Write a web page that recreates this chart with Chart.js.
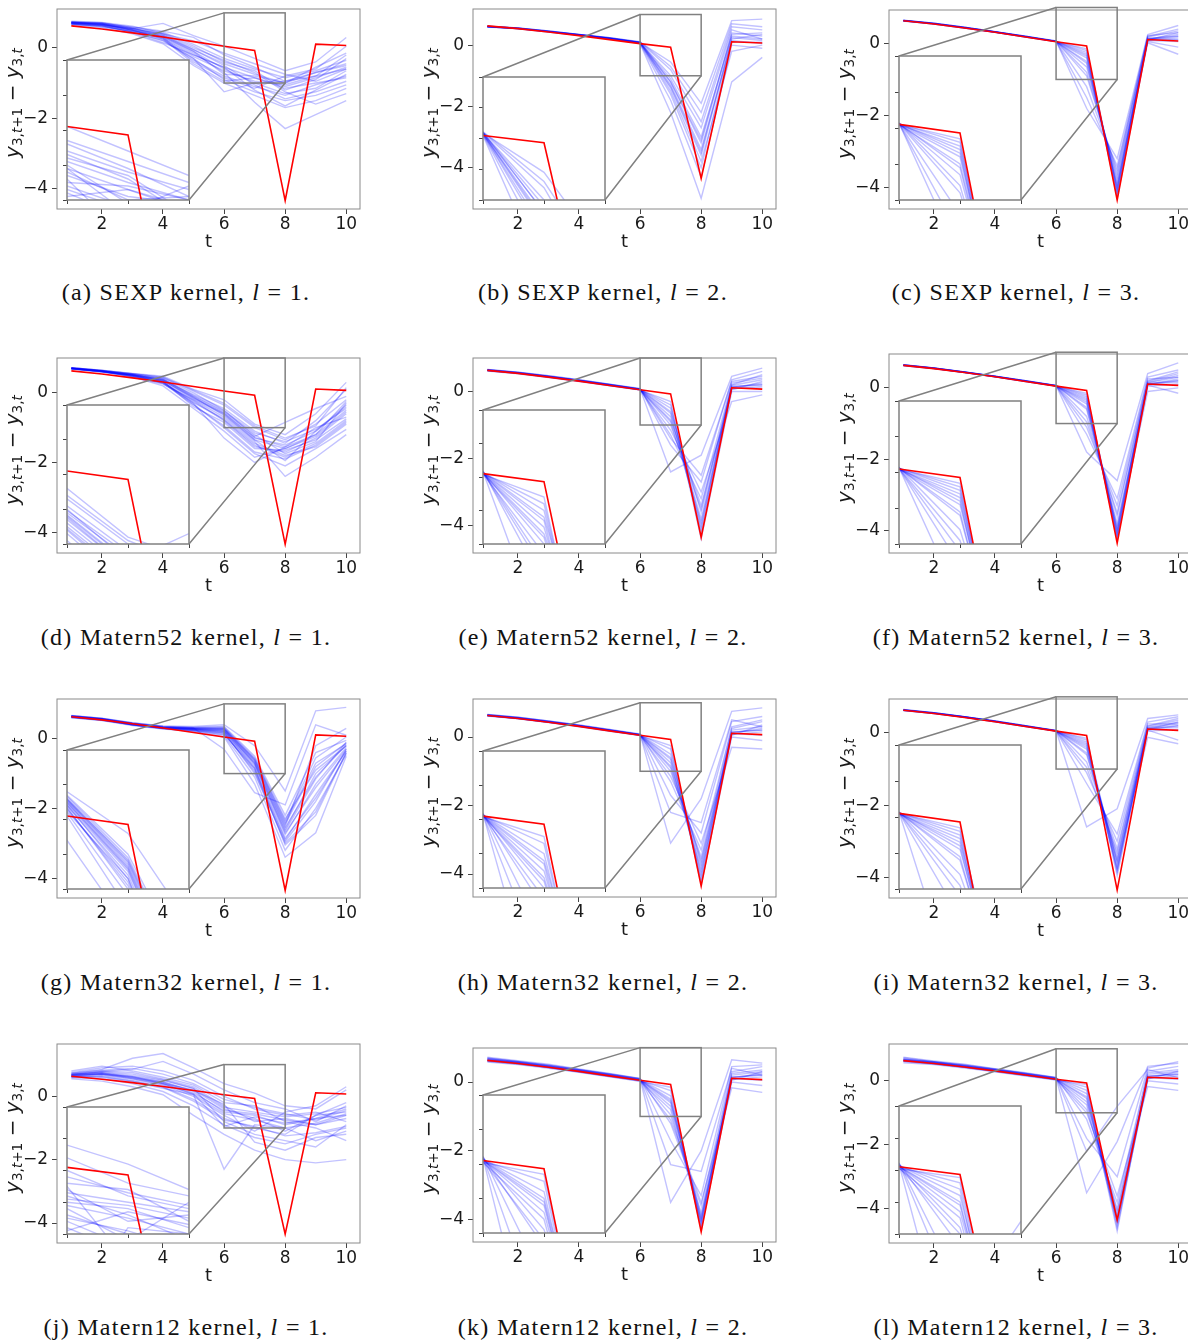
<!DOCTYPE html>
<html>
<head>
<meta charset="utf-8">
<script src="https://cdn.jsdelivr.net/npm/chart.js@4.4.1/dist/chart.umd.min.js"></script>
<style>
  html, body { margin: 0; padding: 0; width: 1188px; height: 1340px; overflow: hidden; background: #fff; }
  #fig { position: relative; width: 1188px; height: 1340px; overflow: hidden; }
  #fig canvas { position: absolute; }
  .ylab {
    position: absolute; transform: translate(-50%, -50%) rotate(-90deg);
    font-family: "DejaVu Sans"; font-size: 20px; line-height: 20px; white-space: nowrap; color: #1a1a1a;
  }
  .ylab sub { font-size: 68%; vertical-align: -0.25em; line-height: 0; }
  .cap {
    position: absolute; transform: translate(-50%, -50%);
    font-family: "Liberation Serif"; font-size: 24px; letter-spacing: 1.3px;
    white-space: nowrap; color: #111;
  }
</style>
</head>
<body>
<div id="fig"></div>
<script>
// ---- data ----
const steps = [1, 2, 3, 4, 5, 6, 7, 8, 9, 10];
const xTicks = [2, 4, 6, 8, 10];
const yTicks = [-4, -2, 0];
const zoomT = [6, 8];
const zoomY = [-1, 1];
const insetXTicks = [6, 7, 8];
const insetYTicks = [-1, -0.5, 0, 0.5, 1];

const kernels = ['SEXP', 'Matern52', 'Matern32', 'Matern12'];
const lengthscales = [1, 2, 3];
const letters = ['a', 'b', 'c', 'd', 'e', 'f', 'g', 'h', 'i', 'j', 'k', 'l'];

// observed y_{3,t+1} - y_{3,t}
const truth = [0.63, 0.54, 0.43, 0.31, 0.18, 0.05, -0.07, -4.35, 0.11, 0.07];

// posterior sample paths, one list per panel
const samplesA = [
  [.72, .68, .52, .30, -.20, -.55, -.85, -1.10, -.85, -.55],
  [.70, .64, .45, .22, -.35, -.80, -1.10, -1.35, -1.05, -.80],
  [.75, .72, .58, .45, .10, -.30, -.60, -.85, -.65, -.35],
  [.68, .62, .48, .28, -.25, -.65, -.95, -1.05, -.80, -.60],
  [.73, .70, .56, .38, -.05, -.50, -1.05, -1.45, -1.25, -.95],
  [.66, .58, .40, .12, -.50, -1.00, -1.35, -1.70, -1.50, -1.15],
  [.74, .66, .55, .70, .35, .05, -.30, -.65, -.40, .30],
  [.71, .69, .50, .25, -.30, -1.25, -1.00, -.95, -.70, -.45],
  [.69, .60, .47, .33, -.15, -.70, -1.55, -2.30, -1.90, -1.50],
  [.76, .73, .62, .42, .05, -.40, -.65, -1.20, -.90, -.30],
  [.70, .65, .50, .26, -.45, -.95, -.85, -1.15, -1.00, -.85],
  [.72, .67, .55, .40, .20, -.15, -.45, -.75, -.95, -.60],
  [.67, .63, .44, .15, -.20, -.55, -1.20, -1.65, -1.20, -.75],
  [.73, .71, .57, .32, -.10, -.75, -.80, -1.00, -.55, -.15],
  [.71, .66, .50, .35, -.05, -.45, -.75, -1.00, -.70, -.50],
  [.74, .70, .60, .48, .30, -.20, -.55, -.95, -.80, -.20],
  [.69, .63, .46, .20, -.30, -.90, -1.25, -1.50, -1.35, -1.05],
  [.72, .68, .53, .36, -.10, -.60, -1.00, -1.30, -1.15, -.65],
  [.70, .66, .51, .30, -.40, -.85, -1.15, -.80, -.60, .05],
  [.73, .69, .54, .40, .00, -.35, -.70, -1.25, -1.60, -1.30]
];
const samplesB = [
  [.61, .55, .45, .34, .23, .09, -1.10, -3.00, .30, .20],
  [.60, .54, .44, .33, .22, .08, -1.30, -3.40, .10, .10],
  [.62, .56, .46, .35, .24, .10, -.80, -2.50, .60, .50],
  [.60, .54, .44, .33, .21, .07, -1.50, -3.80, -.20, .00],
  [.61, .55, .45, .34, .23, .09, -1.20, -3.10, .40, .30],
  [.59, .53, .43, .32, .21, .06, -1.80, -4.30, .00, -.10],
  [.62, .56, .46, .35, .24, .11, -.70, -2.20, .70, .60],
  [.61, .55, .45, .34, .22, .08, -1.40, -3.60, .20, .35],
  [.60, .54, .43, .32, .20, .05, -2.20, -5.00, -1.20, -.40],
  [.61, .55, .45, .34, .23, .09, -1.00, -2.70, .50, .20],
  [.60, .54, .44, .33, .22, .07, -1.60, -4.00, .15, .05],
  [.62, .56, .46, .35, .24, .10, -1.20, -3.20, .35, .40],
  [.61, .55, .45, .34, .23, .09, -.55, -1.90, .80, .85],
  [.60, .54, .44, .33, .22, .08, -1.35, -3.50, .25, .15]
];
const samplesC = [
  [.64, .55, .44, .32, .19, .06, -.20, -4.10, .12, .20],
  [.63, .54, .43, .31, .18, .05, -.50, -3.90, .10, .30],
  [.65, .56, .45, .33, .20, .07, -.80, -3.70, .15, .10],
  [.63, .55, .44, .32, .19, .05, -.15, -4.30, .08, .05],
  [.64, .56, .45, .33, .20, .06, -1.20, -3.50, .20, .40],
  [.62, .54, .43, .31, .18, .05, -.40, -4.00, .12, .25],
  [.64, .55, .44, .32, .19, .06, -.65, -3.80, .05, -.10],
  [.65, .56, .45, .33, .20, .07, -1.80, -3.20, .25, .50],
  [.63, .55, .44, .32, .19, .06, -.30, -4.20, .10, .15],
  [.64, .55, .44, .32, .19, .06, -.90, -3.60, .18, .35],
  [.62, .54, .43, .31, .18, .05, -.25, -4.15, .02, -.30],
  [.64, .56, .45, .33, .20, .06, -.55, -3.95, .14, .20],
  [.63, .55, .44, .32, .19, .06, -1.50, -3.40, .22, .30],
  [.64, .55, .44, .32, .19, .06, -.35, -4.05, .09, .10]
];
const samplesD = [
  [.71, .63, .52, .35, -.15, -.60, -1.30, -1.50, -1.10, -.40],
  [.69, .60, .48, .30, -.25, -.80, -1.55, -1.70, -1.30, -.60],
  [.72, .64, .55, .45, .05, -.35, -1.00, -1.35, -.90, -.20],
  [.70, .62, .50, .28, -.35, -.95, -1.70, -1.90, -1.50, -.85],
  [.71, .61, .46, .20, -.45, -1.10, -1.85, -1.60, -1.20, -.50],
  [.68, .59, .53, .40, -.10, -.55, -1.20, -1.75, -1.40, -.30],
  [.72, .65, .56, .48, .10, -.20, -.90, -1.20, -.60, .30],
  [.70, .62, .49, .32, -.30, -1.30, -2.00, -1.55, -1.00, -.70],
  [.69, .60, .45, .25, -.20, -.70, -1.40, -2.40, -1.85, -1.20],
  [.71, .63, .51, .38, -.05, -.45, -1.10, -1.45, -.80, .10],
  [.70, .61, .50, .33, -.40, -.85, -1.60, -1.65, -1.35, -.75],
  [.72, .64, .54, .42, .00, -.50, -1.25, -.85, -.45, -.10],
  [.69, .62, .47, .27, -.28, -.75, -1.45, -1.80, -1.55, -.90],
  [.71, .63, .52, .36, -.12, -.65, -1.35, -1.95, -1.10, -.35],
  [.70, .62, .51, .34, -.18, -.62, -1.35, -1.60, -1.25, -.55],
  [.71, .63, .53, .39, -.08, -.52, -1.15, -1.40, -1.05, -.45],
  [.69, .61, .48, .29, -.22, -.78, -1.50, -1.85, -1.45, -.80],
  [.72, .64, .55, .44, .08, -.30, -.95, -1.30, -.95, .15],
  [.70, .62, .50, .31, -.33, -1.00, -1.75, -2.10, -1.60, -1.05],
  [.71, .63, .52, .37, -.14, -.58, -1.28, -1.55, -1.20, -.25]
];
const samplesE = [
  [.64, .56, .45, .33, .20, .07, -.60, -3.60, .15, .20],
  [.62, .54, .43, .31, .18, .05, -.90, -3.90, .05, .30],
  [.66, .58, .47, .35, .22, .08, -1.30, -3.20, .25, .40],
  [.63, .55, .44, .32, .19, .06, -.40, -4.20, .10, .10],
  [.65, .57, .46, .34, .21, .07, -1.00, -3.50, .20, .50],
  [.61, .53, .42, .30, .17, .04, -.30, -4.40, .00, .00],
  [.66, .58, .47, .35, .22, .09, -1.60, -2.70, .35, .60],
  [.63, .55, .44, .32, .19, .06, -.75, -3.80, .12, .25],
  [.64, .57, .46, .34, .21, .08, -2.40, -1.90, .45, .70],
  [.62, .54, .43, .31, .18, .05, -1.15, -3.00, -.30, -.10],
  [.65, .56, .45, .33, .20, .07, -.50, -4.00, .18, .35],
  [.63, .55, .44, .32, .19, .06, -.85, -3.40, .08, .15],
  [.64, .56, .45, .33, .20, .07, -1.40, -2.50, .30, .45],
  [.63, .55, .44, .32, .19, .06, -.65, -4.10, .14, .20]
];
const samplesF = [
  [.64, .55, .44, .32, .19, .06, -.20, -4.10, .12, .20],
  [.63, .54, .43, .31, .18, .05, -.45, -3.90, .15, .35],
  [.65, .56, .45, .33, .20, .07, -.80, -3.60, .20, .45],
  [.63, .55, .44, .32, .19, .05, -.15, -4.25, .05, .10],
  [.64, .56, .45, .33, .20, .06, -1.10, -3.30, .25, .30],
  [.62, .54, .43, .31, .18, .05, -.30, -4.00, .10, .25],
  [.64, .55, .44, .32, .19, .06, -.60, -3.80, .08, -.15],
  [.65, .56, .45, .33, .20, .07, -1.80, -2.60, .40, .70],
  [.63, .55, .44, .32, .19, .06, -.25, -4.20, .12, .15],
  [.64, .55, .44, .32, .19, .06, -.95, -3.50, .18, .40],
  [.62, .54, .43, .31, .18, .05, -.35, -4.15, -.10, .00],
  [.64, .56, .45, .33, .20, .06, -.55, -3.95, .14, .30],
  [.63, .55, .44, .32, .19, .06, -1.30, -3.10, .30, .50],
  [.64, .55, .44, .32, .19, .06, -.40, -4.05, .10, .20]
];
const samplesG = [
  [.64, .56, .42, .32, .28, .25, -.70, -2.60, -1.00, -.20],
  [.62, .53, .40, .30, .24, .15, -.90, -2.90, -1.60, -.35],
  [.66, .58, .45, .35, .32, .35, -.50, -2.20, -.40, -.05],
  [.60, .52, .38, .28, .22, .10, -1.10, -3.20, -2.00, -.45],
  [.65, .57, .44, .33, .30, .30, -.60, -2.40, -.70, -.15],
  [.63, .55, .41, .31, .26, .20, -.80, -2.75, -1.30, -.25],
  [.67, .59, .46, .37, .35, .40, -.20, -1.50, .80, .90],
  [.61, .54, .39, .29, .20, .05, -1.30, -3.40, -2.70, -.50],
  [.64, .56, .43, .34, .29, .28, -.65, -2.50, -.20, .30],
  [.62, .55, .40, .30, .25, .18, -1.00, -2.95, -1.80, -.30],
  [.65, .57, .44, .32, .27, .22, -.75, -2.65, -1.15, -.10],
  [.63, .56, .42, .33, .31, -.30, -1.55, -1.90, .40, .10],
  [.61, .53, .40, .29, .23, .12, -.85, -3.05, -2.20, -.40],
  [.66, .58, .45, .36, .33, .33, -.55, -2.30, -.90, -.20],
  [.64, .56, .42, .32, .28, .24, -.72, -2.70, -1.40, -.30],
  [.63, .55, .41, .31, .27, .21, -.85, -2.85, -1.70, -.35],
  [.65, .57, .43, .33, .30, .28, -.62, -2.45, -.80, -.12],
  [.62, .54, .40, .30, .25, .16, -.95, -3.00, -2.10, -.40],
  [.64, .56, .42, .32, .29, .26, -.68, -2.55, -1.10, -.18],
  [.66, .58, .44, .34, .31, .30, -.58, -2.35, -.55, .05]
];
const samplesH = [
  [.64, .56, .45, .33, .20, .07, -.60, -3.70, .15, .20],
  [.62, .54, .43, .31, .18, .05, -.90, -3.90, .05, .35],
  [.66, .58, .47, .35, .22, .08, -1.30, -3.30, .30, .50],
  [.63, .55, .44, .32, .19, .06, -.35, -4.20, .10, .05],
  [.65, .57, .46, .34, .21, .07, -1.00, -3.50, .25, .45],
  [.61, .53, .42, .30, .17, .04, -.25, -4.30, .00, -.10],
  [.66, .58, .47, .35, .22, .09, -1.70, -2.80, .45, .60],
  [.63, .55, .44, .32, .19, .06, -.75, -3.80, .12, .25],
  [.64, .57, .46, .34, .21, .08, -3.10, -1.80, .75, .85],
  [.62, .54, .43, .31, .18, .05, -1.15, -3.10, -.30, -.35],
  [.65, .56, .45, .33, .20, .07, -.50, -4.00, .20, .30],
  [.63, .55, .44, .32, .19, .06, -.85, -3.60, .08, .15],
  [.64, .56, .45, .33, .20, .07, -2.20, -2.50, .50, .30],
  [.63, .55, .44, .32, .19, .06, -.65, -4.10, .14, .20]
];
const samplesI = [
  [.64, .55, .44, .32, .19, .06, -.20, -3.70, .12, .20],
  [.63, .54, .43, .31, .18, .05, -.45, -3.50, .15, .30],
  [.65, .56, .45, .33, .20, .07, -.80, -3.20, .20, .40],
  [.63, .55, .44, .32, .19, .05, -.15, -3.95, .05, .10],
  [.64, .56, .45, .33, .20, .06, -1.10, -3.00, .25, .25],
  [.62, .54, .43, .31, .18, .05, -.30, -3.80, .10, .30],
  [.64, .55, .44, .32, .19, .06, -.60, -3.40, .08, -.20],
  [.65, .56, .45, .33, .20, .07, -2.60, -2.10, .40, .50],
  [.63, .55, .44, .32, .19, .06, -.25, -3.85, .12, .15],
  [.64, .55, .44, .32, .19, .06, -.95, -3.30, .18, .35],
  [.62, .54, .43, .31, .18, .05, -.35, -3.60, -.12, -.30],
  [.64, .56, .45, .33, .20, .06, -.55, -3.55, .14, .25],
  [.63, .55, .44, .32, .19, .06, -1.40, -2.80, .30, .45],
  [.64, .55, .44, .32, .19, .06, -.40, -3.75, .10, .20]
];
const samplesJ = [
  [.65, .72, .60, .45, .15, -.50, -.60, -.90, -.70, -.40],
  [.70, .80, .75, .55, .30, -.30, -.80, -.70, -.90, -.60],
  [.60, .65, .50, .30, -.10, -.70, -1.00, -1.20, -.60, -.20],
  [.75, .90, .95, .80, .50, .00, -.40, -.60, -.50, -.80],
  [.58, .55, .40, .15, -.30, -.90, -1.30, -1.50, -1.20, -1.00],
  [.68, .78, .85, 1.10, .70, .20, -.20, -.40, -.80, -.30],
  [.62, .60, .45, .25, .05, -2.30, -.90, -1.00, -1.40, -1.10],
  [.72, .85, 1.20, 1.35, .90, .40, .10, -.30, -.40, .20],
  [.55, .48, .30, .05, -.60, -1.20, -1.70, -2.00, -2.10, -2.00],
  [.66, .70, .62, .40, .20, -.40, -.70, -1.10, -.60, -.50],
  [.80, .95, .80, .60, .35, -.20, -.30, -.80, -1.00, -1.40],
  [.63, .68, .55, .35, .00, -.60, -1.10, -.50, -.30, .30],
  [.70, .75, .65, .50, .25, -.80, -1.20, -1.40, -1.60, -.90],
  [.67, .73, .58, .42, .10, -.45, -.55, -.75, -.90, -.70],
  [.64, .70, .58, .40, .05, -.55, -.75, -1.00, -.85, -.55],
  [.69, .77, .70, .52, .25, -.35, -.50, -.65, -.55, -.35],
  [.61, .62, .48, .28, -.15, -.75, -.95, -1.25, -1.15, -.95],
  [.73, .82, .88, .70, .40, -.10, -.35, -.55, -.75, -.45],
  [.66, .70, .55, .38, .08, -.95, -.65, -.85, -.70, -.60],
  [.68, .74, .62, .45, .18, -.25, -1.45, -1.70, -1.30, -1.20]
];
const samplesK = [
  [.66, .58, .46, .35, .21, .07, -.50, -3.90, .15, .20],
  [.60, .52, .42, .29, .16, .03, -.80, -4.10, .05, .30],
  [.70, .60, .50, .37, .24, .10, -1.20, -3.60, .30, .45],
  [.62, .55, .43, .31, .18, .05, -.25, -4.30, .10, .05],
  [.68, .57, .47, .34, .22, .08, -.95, -3.80, .25, .35],
  [.58, .51, .40, .28, .15, .02, -.15, -4.25, .00, -.10],
  [.72, .62, .52, .38, .25, .11, -1.70, -3.30, .45, .50],
  [.63, .56, .45, .32, .19, .06, -.60, -4.00, .12, .25],
  [.65, .58, .48, .36, .23, .09, -3.50, -2.00, .65, .55],
  [.61, .53, .42, .30, .17, .04, -1.10, -3.50, -.17, -.30],
  [.67, .59, .47, .34, .21, .07, -.40, -4.15, .20, .30],
  [.64, .55, .44, .32, .19, .06, -.70, -3.95, .08, .15],
  [.69, .60, .49, .36, .23, .10, -2.40, -2.60, .40, .20],
  [.63, .56, .45, .33, .20, .06, -.55, -4.05, .14, .20]
];
const samplesL = [
  [.66, .58, .46, .35, .21, .07, -.40, -4.20, .15, .20],
  [.60, .52, .42, .29, .16, .03, -.75, -4.40, .05, .30],
  [.72, .60, .50, .37, .24, .10, -1.20, -3.80, .30, .45],
  [.62, .55, .43, .31, .18, .05, -.20, -4.60, .10, .05],
  [.68, .57, .47, .34, .22, .08, -.90, -4.00, .25, .35],
  [.56, .51, .40, .28, .15, .02, -.12, -4.50, .00, -.10],
  [.74, .62, .52, .38, .25, .11, -1.80, -3.00, .40, .60],
  [.63, .56, .45, .32, .19, .06, -.55, -4.30, .12, .25],
  [.65, .58, .48, .36, .23, .09, -3.50, -1.90, .45, .55],
  [.61, .53, .42, .30, .17, .04, -1.00, -3.60, -.18, -.30],
  [.67, .59, .47, .34, .21, .07, -.30, -4.70, .20, .30],
  [.64, .55, .44, .32, .19, .06, -.65, -4.10, .08, .15],
  [.69, .60, .49, .36, .23, .10, -2.20, -.80, .35, .10],
  [.63, .56, .45, .33, .20, .06, -.50, -4.35, .14, .20]
];
const panelSamples = [samplesA, samplesB, samplesC, samplesD, samplesE, samplesF,
  samplesG, samplesH, samplesI, samplesJ, samplesK, samplesL];
const yLimits = [
  [-4.59, 1.11], [-5.35, 1.18], [-4.60, 0.93],
  [-4.60, 1.00], [-4.82, 1.00], [-4.63, 0.95],
  [-4.57, 1.14], [-4.67, 1.11], [-4.57, 0.94],
  [-4.63, 1.65], [-4.65, 0.99], [-5.07, 1.15]
];
const xLimits = [0.53, 10.45];

// ---- layout (page pixels) ----
const axesBoxes = [ // left, top, bottom of the plot area
  [57, 9, 209], [473, 9, 209], [889, 10, 209],
  [57, 358, 553], [473, 358, 553], [889, 354, 553],
  [57, 699, 898], [473, 699, 897], [889, 699, 898],
  [57, 1044, 1243], [473, 1048, 1242], [889, 1044, 1243]
];
const AX_W = 303;
const capX = [186, 603, 1016];
const capY = [292, 637, 982, 1327];
const PL = 62, PT = 24, PR = 34, PB = 52;   // room around the main plot area
const IL = 6, IT = 2, IR = 2, IB = 6;       // room around the inset plot area
const ZOOM = 2;
const BLUE = 'rgba(0, 0, 255, 0.24)';
const RED = '#ff0000';
const EDGE = '#808080';

Chart.defaults.font.family = 'DejaVu Sans';
Chart.defaults.color = '#1a1a1a';

const fig = document.getElementById('fig');
const minus = (v) => (v < 0 ? '\u2212' + Math.abs(v) : String(v));
const pts = (row) => row.map((v, i) => ({x: steps[i], y: v}));

function datasets(rows) {
  const sets = [{data: pts(truth), borderColor: RED, borderWidth: 1.6}];
  rows.forEach((r) => sets.push({data: pts(r), borderColor: BLUE, borderWidth: 1.4}));
  return sets.map((s) => ({...s, pointRadius: 0, tension: 0, fill: false}));
}

function insetBox(chart) {
  const {chartArea: a, scales: {x, y}} = chart;
  const w = Math.round(ZOOM * (x.getPixelForValue(zoomT[1]) - x.getPixelForValue(zoomT[0])));
  const h = Math.round(ZOOM * (y.getPixelForValue(zoomY[0]) - y.getPixelForValue(zoomY[1])));
  const left = Math.round(a.left + 10);
  const bottom = Math.round(a.bottom - 9);
  return {left, bottom, w, h, top: bottom - h, right: left + w};
}

const mainFrame = {
  id: 'mainFrame',
  afterDraw(chart) {
    const {ctx, chartArea: a, scales: {x, y}} = chart;
    ctx.save();
    ctx.strokeStyle = '#8a8a8a';
    ctx.lineWidth = 1;
    ctx.strokeRect(a.left, a.top, a.right - a.left, a.bottom - a.top);
    const x0 = x.getPixelForValue(zoomT[0]);
    const x1 = x.getPixelForValue(zoomT[1]);
    const yTop = y.getPixelForValue(zoomY[1]);
    const yBot = y.getPixelForValue(zoomY[0]);
    const box = insetBox(chart);
    ctx.strokeStyle = EDGE;
    ctx.lineWidth = 1.5;
    ctx.strokeRect(x0, yTop, x1 - x0, yBot - yTop);
    ctx.beginPath();
    ctx.moveTo(x0, yTop);
    ctx.lineTo(box.left, box.top);
    ctx.moveTo(x1, yBot);
    ctx.lineTo(box.right, box.bottom);
    ctx.stroke();
    ctx.restore();
  }
};

const insetFrame = {
  id: 'insetFrame',
  beforeDraw(chart) {
    const {ctx, chartArea: a} = chart;
    ctx.save();
    ctx.fillStyle = '#fff';
    ctx.fillRect(a.left, a.top, a.right - a.left, a.bottom - a.top);
    ctx.restore();
  },
  afterDraw(chart) {
    const {ctx, chartArea: a} = chart;
    ctx.save();
    ctx.strokeStyle = EDGE;
    ctx.lineWidth = 1.5;
    ctx.strokeRect(a.left, a.top, a.right - a.left, a.bottom - a.top);
    ctx.restore();
  }
};

function addCanvas(left, top, w, h) {
  const cv = document.createElement('canvas');
  cv.width = w;
  cv.height = h;
  cv.style.left = left + 'px';
  cv.style.top = top + 'px';
  cv.style.width = w + 'px';
  cv.style.height = h + 'px';
  fig.appendChild(cv);
  return cv;
}

const tickGrid = {drawOnChartArea: false, drawTicks: true, tickLength: 5, color: '#444', lineWidth: 1};

panelSamples.forEach((rows, i) => {
  const [L, T, B] = axesBoxes[i];
  const H = B - T;
  const cLeft = L - PL;
  const cTop = T - PT;
  const cv = addCanvas(cLeft, cTop, AX_W + PL + PR, H + PT + PB);
  const chart = new Chart(cv, {
    type: 'line',
    data: {datasets: datasets(rows)},
    options: {
      responsive: false, animation: false, events: [],
      layout: {padding: {left: 0, top: PT, right: PR, bottom: 0}},
      plugins: {legend: {display: false}, tooltip: {enabled: false}},
      scales: {
        x: {
          type: 'linear', min: xLimits[0], max: xLimits[1],
          afterBuildTicks: (s) => { s.ticks = xTicks.map((v) => ({value: v})); },
          afterFit: (s) => { s.height = PB; },
          grid: tickGrid, border: {display: false},
          ticks: {font: {size: 17}, padding: 0, maxRotation: 0, autoSkip: false},
          title: {display: true, text: 't', font: {size: 18}, padding: {top: 0, bottom: 8}}
        },
        y: {
          type: 'linear', min: yLimits[i][0], max: yLimits[i][1],
          afterBuildTicks: (s) => { s.ticks = yTicks.map((v) => ({value: v})); },
          afterFit: (s) => { s.width = PL; },
          grid: tickGrid, border: {display: false},
          ticks: {font: {size: 17}, padding: 4, autoSkip: false, callback: (v) => minus(v)}
        }
      }
    },
    plugins: [mainFrame]
  });

  // zoomed inset
  const box = insetBox(chart);
  const icv = addCanvas(cLeft + box.left - IL, cTop + box.top - IT, box.w + IL + IR, box.h + IT + IB);
  new Chart(icv, {
    type: 'line',
    data: {datasets: datasets(rows)},
    options: {
      responsive: false, animation: false, events: [],
      layout: {padding: {left: 0, top: IT, right: IR, bottom: 0}},
      plugins: {legend: {display: false}, tooltip: {enabled: false}},
      scales: {
        x: {
          type: 'linear', min: zoomT[0], max: zoomT[1],
          afterBuildTicks: (s) => { s.ticks = insetXTicks.map((v) => ({value: v})); },
          afterFit: (s) => { s.height = IB; },
          grid: {...tickGrid, tickLength: 4}, border: {display: false},
          ticks: {display: false}
        },
        y: {
          type: 'linear', min: zoomY[0], max: zoomY[1],
          afterBuildTicks: (s) => { s.ticks = insetYTicks.map((v) => ({value: v})); },
          afterFit: (s) => { s.width = IL; },
          grid: {...tickGrid, tickLength: 4}, border: {display: false},
          ticks: {display: false}
        }
      }
    },
    plugins: [insetFrame]
  });

  // y-axis label
  const yl = document.createElement('div');
  yl.className = 'ylab';
  yl.style.left = (L - 45) + 'px';
  yl.style.top = ((T + B) / 2 - 6) + 'px';
  yl.innerHTML = '<i>y</i><sub>3,<i>t</i>+1</sub> \u2212 <i>y</i><sub>3,<i>t</i></sub>';
  fig.appendChild(yl);

  // caption
  const cap = document.createElement('div');
  cap.className = 'cap';
  cap.style.left = capX[i % 3] + 'px';
  cap.style.top = capY[Math.floor(i / 3)] + 'px';
  cap.innerHTML = '(' + letters[i] + ') ' + kernels[Math.floor(i / 3)] + ' kernel, <i>l</i> = ' +
    lengthscales[i % 3] + '.';
  fig.appendChild(cap);
});
</script>
</body>
</html>
